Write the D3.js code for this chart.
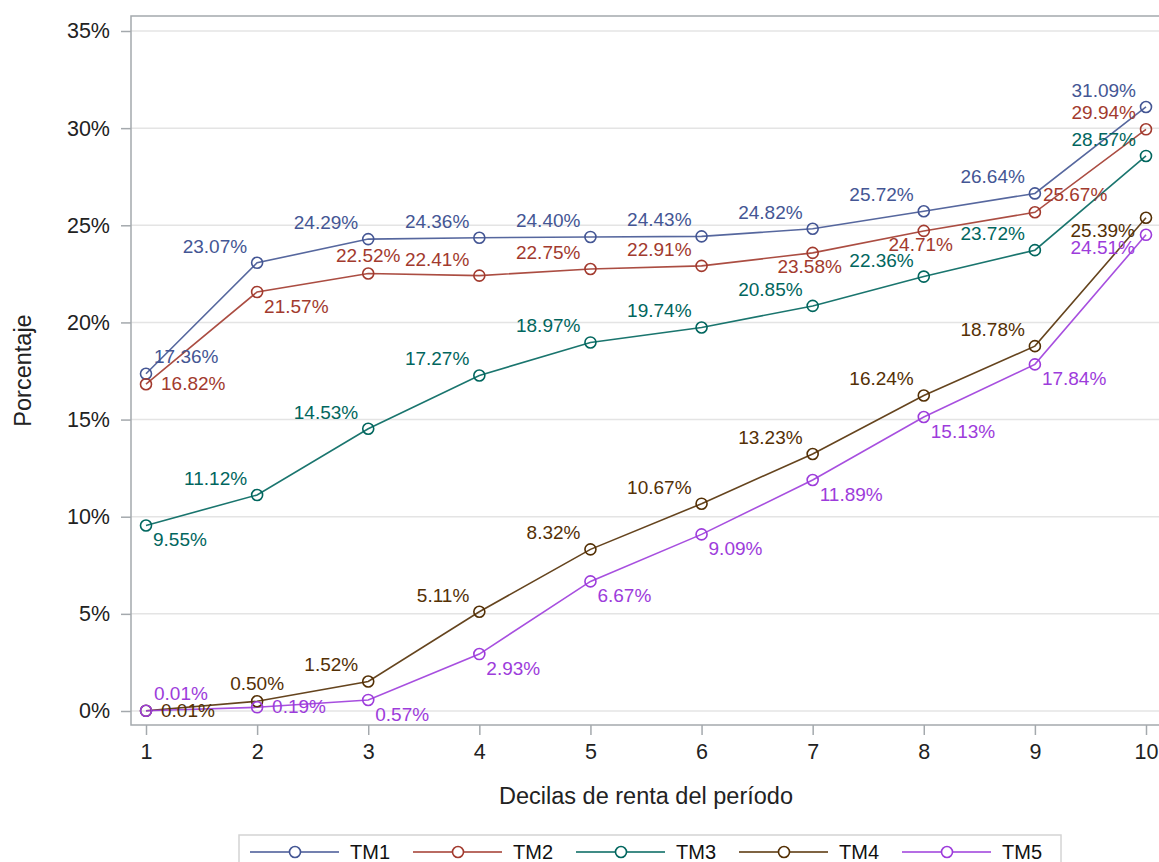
<!DOCTYPE html>
<html>
<head>
<meta charset="utf-8">
<script src="https://cdn.jsdelivr.net/npm/d3@7"></script>
<style>
  html, body { margin: 0; padding: 0; background: #fff; }
  svg { display: block; font-family: "Liberation Sans", Arial, sans-serif; }
</style>
</head>
<body>
<svg id="chart" width="1159" height="862"></svg>
<script>
// ---- data ----
const deciles = [1, 2, 3, 4, 5, 6, 7, 8, 9, 10];
const seriesNames = ["TM1", "TM2", "TM3", "TM4", "TM5"];
const tm1 = [17.36, 23.07, 24.29, 24.36, 24.40, 24.43, 24.82, 25.72, 26.64, 31.09];
const tm2 = [16.82, 21.57, 22.52, 22.41, 22.75, 22.91, 23.58, 24.71, 25.67, 29.94];
const tm3 = [9.55, 11.12, 14.53, 17.27, 18.97, 19.74, 20.85, 22.36, 23.72, 28.57];
const tm4 = [0.01, 0.50, 1.52, 5.11, 8.32, 10.67, 13.23, 16.24, 18.78, 25.39];
const tm5 = [0.01, 0.19, 0.57, 2.93, 6.67, 9.09, 11.89, 15.13, 17.84, 24.51];
const yTickValues = [0, 5, 10, 15, 20, 25, 30, 35];
const xTickValues = deciles;
const xTitle = "Decilas de renta del período";
const yTitle = "Porcentaje";

// ---- style / layout ----
const colors = ["#445694", "#A23A2E", "#01665E", "#543005", "#9D3CDB"];
// label placement per point (like SAS automatic collision avoidance)
const placements = [
  ["ur","ul","ul","ul","ul","ul","ul","ul","ul","ul"],
  ["r","lr","a","ul","ul","ul","b","b","ur","ul"],
  ["lr","ul","ul","ul","ul","ul","ul","ul","ul","ul"],
  ["r","a","ul","ul","ul","ul","ul","ul","ul","ll"],
  ["ur","r","lr","lr","lr","lr","lr","lr","lr","ll"]
];
const placeDef = {
  ul: {dx: -10, dy: -10, anchor: "end"},
  ur: {dx: 8, dy: -11, anchor: "start"},
  a:  {dx: 0, dy: -11, anchor: "middle"},
  r:  {dx: 15, dy: 6, anchor: "start"},
  lr: {dx: 7, dy: 21, anchor: "start"},
  b:  {dx: -3, dy: 20, anchor: "middle"},
  ll: {dx: -11, dy: 19, anchor: "end"}
};

const frame = {left: 131, top: 16, right: 1161, bottom: 725};
const svg = d3.select("#chart");

const x = d3.scaleLinear().domain([1, 10]).range([146, 1146]);
const y = d3.scaleLinear().domain([0, 35]).range([711, 31]);

const seriesValues = [tm1, tm2, tm3, tm4, tm5];
const series = seriesNames.map((name, i) => ({
  name, color: colors[i], place: placements[i],
  points: deciles.map((d, j) => ({x: d, v: seriesValues[i][j]}))
}));

// grid lines
svg.append("g").selectAll("line").data(yTickValues).join("line")
  .attr("x1", frame.left).attr("x2", frame.right)
  .attr("y1", d => y(d)).attr("y2", d => y(d))
  .attr("stroke", "#e4e4e4").attr("stroke-width", 1.5);

// lines
const line = d3.line().x(d => x(d.x)).y(d => y(d.v));
const gS = svg.append("g");
series.forEach(s => {
  gS.append("path").datum(s.points)
    .attr("d", line).attr("fill", "none")
    .attr("stroke", s.color).attr("stroke-width", 1.6).attr("stroke-opacity", 0.9);
});
series.forEach(s => {
  gS.append("g").selectAll("circle").data(s.points).join("circle")
    .attr("cx", d => x(d.x)).attr("cy", d => y(d.v)).attr("r", 5.5)
    .attr("fill", "none").attr("stroke", s.color).attr("stroke-width", 1.6);
});
// labels
series.forEach(s => {
  gS.append("g").selectAll("text").data(s.points).join("text")
    .attr("x", (d, j) => x(d.x) + placeDef[s.place[j]].dx)
    .attr("y", (d, j) => y(d.v) + placeDef[s.place[j]].dy)
    .attr("text-anchor", (d, j) => placeDef[s.place[j]].anchor)
    .attr("fill", s.color).attr("font-size", 19)
    .text(d => d.v.toFixed(2) + "%");
});

// frame
svg.append("rect")
  .attr("x", frame.left).attr("y", frame.top)
  .attr("width", frame.right - frame.left).attr("height", frame.bottom - frame.top)
  .attr("fill", "none").attr("stroke", "#a4a9ad").attr("stroke-width", 1.5);

// y axis
const yAxis = d3.axisLeft(y).tickValues(yTickValues).tickSize(10).tickPadding(11)
  .tickFormat(d => d + "%");
const gy = svg.append("g").attr("transform", `translate(${frame.left},0)`).call(yAxis);
gy.select(".domain").remove();
gy.selectAll(".tick line").attr("stroke", "#a4a9ad").attr("stroke-width", 1.5);
gy.selectAll(".tick text").attr("font-size", 21.5).attr("fill", "#222")
  .attr("font-family", "'Liberation Sans', Arial, sans-serif");

// x axis
const xAxis = d3.axisBottom(x).tickValues(xTickValues).tickSize(10).tickPadding(9)
  .tickFormat(d3.format("d"));
const gx = svg.append("g").attr("transform", `translate(0,${frame.bottom})`).call(xAxis);
gx.select(".domain").remove();
gx.selectAll(".tick line").attr("stroke", "#a4a9ad").attr("stroke-width", 1.5);
gx.selectAll(".tick text").attr("font-size", 21.5).attr("fill", "#222")
  .attr("font-family", "'Liberation Sans', Arial, sans-serif");

// titles
svg.append("text").attr("x", (frame.left + frame.right) / 2).attr("y", 804)
  .attr("text-anchor", "middle").attr("font-size", 23.5).attr("fill", "#222")
  .text(xTitle);
svg.append("text").attr("transform", `translate(31,${(frame.top + frame.bottom) / 2}) rotate(-90)`)
  .attr("text-anchor", "middle").attr("font-size", 23.5).attr("fill", "#222")
  .text(yTitle);

// legend
const leg = svg.append("g");
leg.append("rect").attr("x", 239).attr("y", 835).attr("width", 822).attr("height", 60)
  .attr("fill", "#fff").attr("stroke", "#d4d4d4").attr("stroke-width", 1.5);
series.forEach((s, i) => {
  const x0 = 250 + i * 163;
  const g = leg.append("g");
  g.append("line").attr("x1", x0).attr("x2", x0 + 89).attr("y1", 852).attr("y2", 852)
    .attr("stroke", s.color).attr("stroke-width", 1.6);
  g.append("circle").attr("cx", x0 + 45).attr("cy", 852).attr("r", 5.5)
    .attr("fill", "#fff").attr("stroke", s.color).attr("stroke-width", 1.6);
  g.append("text").attr("x", x0 + 100).attr("y", 859).attr("font-size", 20)
    .attr("fill", "#111").text(s.name);
});
</script>
</body>
</html>
